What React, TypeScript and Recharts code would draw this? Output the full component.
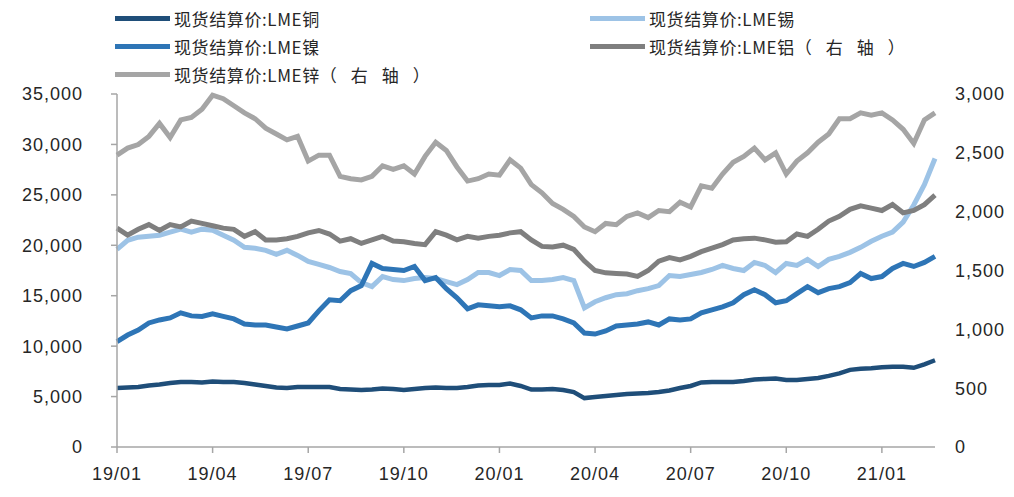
import React from 'react';
import { LineChart, Line, XAxis, YAxis } from 'recharts';

const months = ['19/01','19/02','19/03','19/04','19/05','19/06','19/07','19/08','19/09','19/10','19/11','19/12',
  '20/01','20/02','20/03','20/04','20/05','20/06','20/07','20/08','20/09','20/10','20/11','20/12','21/01','21/02'];
const dekads = ['上旬', '中旬', '下旬'];
const categories: string[] = months.flatMap((m) => dekads.map((d) => `${m}-${d}`));

const copper = [5850,5900,5950,6100,6200,6350,6450,6450,6400,6500,6450,6450,6350,6200,6050,5900,5850,5950,5950,5950,5950,5750,5700,5650,5700,5800,5750,5650,5750,5850,5900,5850,5850,5950,6100,6150,6150,6300,6050,5700,5700,5750,5650,5450,4850,4950,5050,5150,5250,5300,5350,5450,5600,5850,6050,6400,6450,6450,6450,6550,6700,6750,6800,6650,6650,6750,6850,7050,7300,7650,7750,7800,7900,7950,7950,7850,8200,8600];
const tin = [19600,20500,20800,20900,21000,21300,21600,21300,21600,21500,21000,20500,19800,19700,19500,19100,19500,19000,18400,18100,17800,17400,17200,16300,15900,16900,16600,16500,16700,16800,16700,16400,16100,16600,17300,17300,17000,17600,17500,16500,16500,16600,16800,16500,13800,14400,14800,15100,15200,15500,15700,16000,17000,16900,17100,17300,17600,18000,17700,17500,18300,18000,17300,18200,18000,18600,17900,18600,18900,19300,19800,20400,20900,21300,22300,24000,26000,28600];
const nickel = [10450,11100,11600,12300,12600,12800,13300,13000,12950,13200,12950,12700,12200,12100,12100,11900,11700,12000,12300,13500,14600,14500,15500,16000,18200,17700,17600,17500,17900,16500,16800,15700,14800,13700,14100,14000,13900,14000,13600,12800,13000,13000,12700,12300,11300,11200,11500,12000,12100,12200,12400,12100,12700,12600,12700,13300,13600,13900,14300,15100,15600,15100,14300,14500,15200,15900,15300,15700,15900,16300,17200,16700,16900,17700,18200,17900,18300,18900];
const aluminium = [1860,1800,1850,1890,1840,1890,1870,1920,1900,1880,1860,1850,1790,1830,1760,1760,1770,1790,1820,1840,1810,1750,1770,1730,1760,1790,1750,1745,1730,1720,1830,1800,1760,1790,1775,1790,1800,1820,1830,1760,1705,1700,1715,1680,1580,1500,1480,1475,1470,1450,1500,1580,1610,1590,1620,1660,1690,1720,1760,1770,1775,1760,1740,1745,1810,1790,1850,1920,1960,2020,2050,2030,2010,2060,1990,2010,2060,2140];
const zinc = [2480,2540,2570,2640,2750,2630,2780,2800,2870,2990,2960,2900,2840,2790,2710,2660,2610,2640,2430,2480,2480,2300,2280,2270,2300,2390,2360,2390,2320,2470,2590,2520,2380,2260,2280,2320,2310,2440,2370,2230,2160,2070,2020,1960,1870,1830,1900,1890,1960,1990,1950,2010,2000,2080,2040,2220,2200,2320,2420,2470,2540,2440,2500,2320,2430,2500,2590,2660,2790,2790,2840,2820,2840,2780,2700,2580,2780,2840];

const leftTicks = [0, 5000, 10000, 15000, 20000, 25000, 30000, 35000];
const rightTicks = [0, 500, 1000, 1500, 2000, 2500, 3000];

const seriesNames = {
  copper: '现货结算价:LME铜',
  tin: '现货结算价:LME锡',
  nickel: '现货结算价:LME镍',
  aluminium: '现货结算价:LME铝（右轴）',
  zinc: '现货结算价:LME锌（右轴）',
};
const colors = {
  copper: '#1F4E79',
  tin: '#9DC3E6',
  nickel: '#2E75B6',
  aluminium: '#7F7F7F',
  zinc: '#A5A5A5',
};

const data = categories.map((date, i) => ({
  date,
  copper: copper[i],
  tin: tin[i],
  nickel: nickel[i],
  aluminium: aluminium[i],
  zinc: zinc[i],
}));

const FONT = '"Liberation Sans", "Noto Sans CJK SC", sans-serif';
const CJK = '"Noto Sans CJK SC", sans-serif';
const fmt = (v: number) => v.toLocaleString('en-US');
const tickStyle = { fontSize: 18, fill: '#262626', fontFamily: FONT, letterSpacing: 1 };

const legendItems: { key: keyof typeof colors; left: number; top: number }[] = [
  { key: 'copper', left: 107, top: 0 },
  { key: 'tin', left: 582, top: 0 },
  { key: 'nickel', left: 107, top: 28 },
  { key: 'aluminium', left: 582, top: 28 },
  { key: 'zinc', left: 107, top: 56 },
];

function LegendLabel({ text }: { text: string }) {
  const idx = text.indexOf('（');
  if (idx < 0) return <span style={{ letterSpacing: 0.6 }}>{text}</span>;
  return (
    <span style={{ letterSpacing: 0.6 }}>
      {text.slice(0, idx)}
      <span style={{ letterSpacing: 14 }}>{text.slice(idx)}</span>
    </span>
  );
}

export default function App() {
  return (
    <div style={{ position: 'relative', width: 1006, height: 481 }}>
      <LineChart
        width={1006}
        height={481}
        data={data}
        margin={{ top: 86, right: 0, bottom: 0, left: 0 }}
      >
        <XAxis
          dataKey="date"
          interval={8}
          height={42}
          padding={{ left: 0, right: 0 }}
          tickFormatter={(v: string) => v.split('-')[0]}
          axisLine={{ stroke: '#a6a6a6', strokeWidth: 1.5 }}
          tickLine={{ stroke: '#a6a6a6', strokeWidth: 1.5 }}
          tickSize={6}
          tickMargin={14}
          tick={tickStyle}
        />
        <YAxis
          yAxisId="left"
          orientation="left"
          width={109}
          domain={[0, 35000]}
          ticks={leftTicks}
          tickFormatter={fmt}
          axisLine={{ stroke: '#a6a6a6', strokeWidth: 1.5 }}
          tickLine={{ stroke: '#a6a6a6', strokeWidth: 1.5 }}
          tickSize={6}
          tickMargin={28}
          tick={tickStyle}
        />
        <YAxis
          yAxisId="right"
          orientation="right"
          width={79}
          domain={[0, 3000]}
          ticks={rightTicks}
          tickFormatter={fmt}
          axisLine={false}
          tickLine={false}
          tickSize={0}
          tickMargin={20}
          tick={{ ...tickStyle, textAnchor: 'start' }}
        />
        <Line yAxisId="left" dataKey="copper" name={seriesNames.copper} stroke={colors.copper} strokeWidth={4.5} dot={false} isAnimationActive={false} />
        <Line yAxisId="left" dataKey="tin" name={seriesNames.tin} stroke={colors.tin} strokeWidth={5} dot={false} isAnimationActive={false} />
        <Line yAxisId="left" dataKey="nickel" name={seriesNames.nickel} stroke={colors.nickel} strokeWidth={5} dot={false} isAnimationActive={false} />
        <Line yAxisId="right" dataKey="aluminium" name={seriesNames.aluminium} stroke={colors.aluminium} strokeWidth={5} dot={false} isAnimationActive={false} />
        <Line yAxisId="right" dataKey="zinc" name={seriesNames.zinc} stroke={colors.zinc} strokeWidth={5} dot={false} isAnimationActive={false} />
      </LineChart>
      {legendItems.map((it) => (
        <div
          key={it.key}
          style={{
            position: 'absolute',
            left: it.left,
            top: it.top,
            height: 20,
            display: 'flex',
            alignItems: 'center',
            fontFamily: CJK,
            fontSize: 17,
            color: '#262626',
            whiteSpace: 'nowrap',
          }}
        >
          <span style={{ display: 'inline-block', width: 55, height: 5, background: colors[it.key], marginRight: 4 }} />
          <LegendLabel text={seriesNames[it.key]} />
        </div>
      ))}
    </div>
  );
}
